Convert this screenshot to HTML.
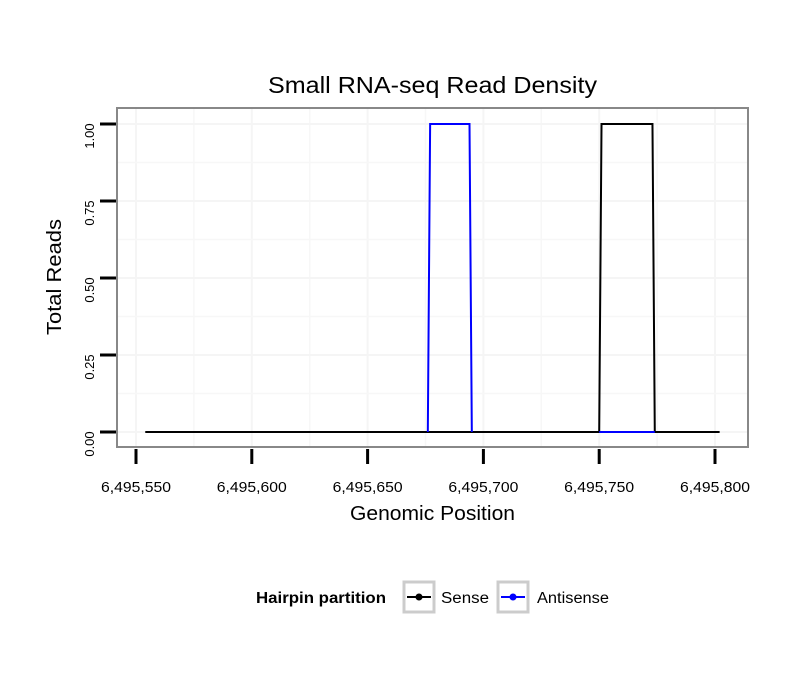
<!DOCTYPE html>
<html><head><meta charset="utf-8"><style>
body{margin:0;background:#fff;font-family:"Liberation Sans",sans-serif}
</style></head><body>
<svg id="c" width="810" height="690" xmlns="http://www.w3.org/2000/svg" font-family="Liberation Sans, sans-serif"></svg>
<script>
const xTicks=[6495550,6495600,6495650,6495700,6495750,6495800];
const xTickLabels=["6,495,550","6,495,600","6,495,650","6,495,700","6,495,750","6,495,800"];
const yTicks=[0,0.25,0.5,0.75,1];
const yTickLabels=["0.00","0.25","0.50","0.75","1.00"];
const senseX=[6495554,6495750,6495751,6495773,6495774,6495802];
const senseY=[0,0,1,1,0,0];
const antiX=[6495676,6495677,6495694,6495695];
const antiY=[0,1,1,0];
const antiTailX=[6495750,6495774];
const antiTailY=[0,0];
const NS="http://www.w3.org/2000/svg";
const svg=document.getElementById('c');
const sx=v=>136+(v-6495550)*579/250;
const sy=v=>432-v*308;
function el(t,a,name,parent){const e=document.createElementNS(NS,t);for(const k in a)e.setAttribute(k,a[k]);


(parent||svg).appendChild(e);return e;}
for(let i=0;i<xTicks.length;i++){el('line',{x1:sx(xTicks[i]),x2:sx(xTicks[i]),y1:108,y2:447,stroke:'#f5f5f5','stroke-width':2},'x-grid-major');
 if(i<xTicks.length-1){const m=(xTicks[i]+xTicks[i+1])/2;el('line',{x1:sx(m),x2:sx(m),y1:108,y2:447,stroke:'#f7f7f7','stroke-width':1.5},'x-grid-minor');}}
for(let i=0;i<yTicks.length;i++){el('line',{x1:117,x2:748,y1:sy(yTicks[i]),y2:sy(yTicks[i]),stroke:'#f5f5f5','stroke-width':2},'y-grid-major');
 if(i<yTicks.length-1){const m=(yTicks[i]+yTicks[i+1])/2;el('line',{x1:117,x2:748,y1:sy(m),y2:sy(m),stroke:'#f7f7f7','stroke-width':1.5},'y-grid-minor');}}
function pts(X,Y){return X.map((x,i)=>sx(x)+','+sy(Y[i])).join(' ');}
el('polyline',{points:pts(senseX,senseY),fill:'none',stroke:'#000','stroke-width':2},'sense-line');
el('polyline',{points:pts(antiX,antiY),fill:'none',stroke:'#00f','stroke-width':2},'antisense-line');
el('polyline',{points:pts(antiTailX,antiTailY),fill:'none',stroke:'#00f','stroke-width':2},'antisense-baseline');
el('rect',{x:117,y:108,width:631,height:339,fill:'none',stroke:'#888','stroke-width':2},'plot-panel');
xTicks.forEach((v,i)=>{el('line',{x1:sx(v),x2:sx(v),y1:449,y2:464,stroke:'#000','stroke-width':3},'x-tick');
 const t=el('text',{x:sx(v)-35,y:492,'font-size':14.5,textLength:70,lengthAdjust:'spacingAndGlyphs'},'x-tick-label');t.textContent=xTickLabels[i];});
yTicks.forEach((v,i)=>{const cy=sy(v)+12;el('line',{x1:100,x2:116,y1:sy(v),y2:sy(v),stroke:'#000','stroke-width':3},'y-tick');
 const t=el('text',{x:94,y:cy,'font-size':13,'text-anchor':'middle',transform:`rotate(-90 94 ${cy})`},'y-tick-label');t.textContent=yTickLabels[i];});
</script>
<svg style="position:absolute;left:0;top:0" width="810" height="690" xmlns="http://www.w3.org/2000/svg" font-family="Liberation Sans, sans-serif">
<text x="268" y="93" font-size="23" textLength="329" lengthAdjust="spacingAndGlyphs">Small RNA-seq Read Density</text>
<text x="350" y="520" font-size="20" textLength="165" lengthAdjust="spacingAndGlyphs">Genomic Position</text>
<text x="0" y="0" font-size="20" textLength="116" lengthAdjust="spacingAndGlyphs" transform="translate(61 335) rotate(-90)">Total Reads</text>
<text x="256" y="603" font-size="15.5" font-weight="bold" textLength="130" lengthAdjust="spacingAndGlyphs">Hairpin partition</text>
<g>
<rect x="404" y="582" width="30" height="30" fill="#fff" stroke="#ccc" stroke-width="3"/>
<line x1="407" x2="431" y1="597" y2="597" stroke="#000" stroke-width="2"/>
<circle cx="419" cy="597" r="3.5" fill="#000"/>
<text x="441" y="603" font-size="15.5" textLength="48" lengthAdjust="spacingAndGlyphs">Sense</text></g>
<g>
<rect x="498" y="582" width="30" height="30" fill="#fff" stroke="#ccc" stroke-width="3"/>
<line x1="501" x2="525" y1="597" y2="597" stroke="#00f" stroke-width="2"/>
<circle cx="513" cy="597" r="3.5" fill="#00f"/>
<text x="537" y="603" font-size="15.5" textLength="72" lengthAdjust="spacingAndGlyphs">Antisense</text></g>
</svg>
</body></html>
